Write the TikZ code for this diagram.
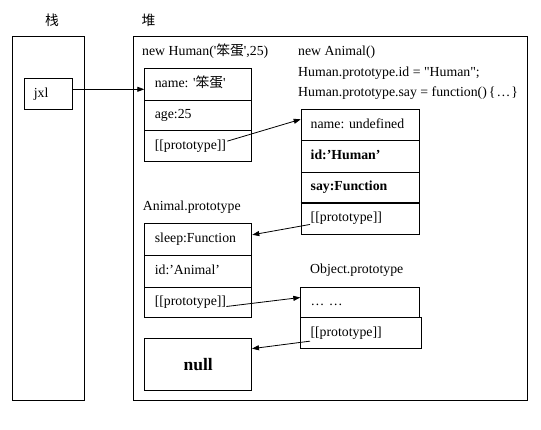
\documentclass[tikz,border=0pt]{standalone}
\usepackage{fontspec}
\newfontfamily\tnr{Liberation Serif}
\newfontfamily\cjk{Noto Sans CJK SC}
\usetikzlibrary{arrows.meta,calc}
\frenchspacing
\tikzset{
  every node/.style={font=\tnr\fontsize{13.8}{16}\selectfont},
  frame/.style={draw, line width=1pt, rectangle, anchor=north west, inner sep=0pt},
  cell/.style={draw, line width=1pt, rectangle, anchor=north west, inner xsep=10pt, inner ysep=0pt,
    align=left, text height=9pt, text depth=3pt},
  lbl/.style={inner sep=0pt, anchor=west, text height=9pt, text depth=3pt},
  arr/.style={-{Triangle[length=7pt,width=5pt]}, line width=0.8pt}
}
\begin{document}
\begin{tikzpicture}[x=1pt,y=-1pt]
\useasboundingbox (0,0) rectangle (541,429);
% titles
\node[inner sep=0pt] (tstack) at (52,20.5) {\cjk 栈};
\node[inner sep=0pt] (theap) at (148.5,20.5) {\cjk 堆};
% stack and heap frames
\node[frame, minimum width=72pt, minimum height=364.3pt] (stack) at (12.3,36) {};
\node[frame, minimum width=394.8pt, minimum height=364.3pt] (heap) at (132.5,36) {};
% jxl
\node[cell, inner xsep=9pt, text width=29.4pt, minimum width=47.4pt, minimum height=31pt] (jxl) at (24.3,78.3) {jxl};
% Human instance
\node[lbl] (lhuman) at (142,52.5) {new Human('{\cjk 笨蛋}',25)};
\node[cell, text width=86.7pt, minimum width=106.7pt, minimum height=32pt] (h1) at (144.3,67.7) {name: '{\cjk 笨蛋}'};
\node[cell, text width=86.7pt, minimum width=106.7pt, minimum height=30.6pt] (h2) at (144.3,99.7) {age:25};
\node[cell, text width=86.7pt, minimum width=106.7pt, minimum height=30.7pt] (h3) at (144.3,130.3) {[[prototype]]};
% Animal instance
\node[lbl] (lanimal) at (298,52.7) {new Animal()};
\node[lbl] (lid) at (298,73.3) {Human.prototype.id = "Human";};
\node[lbl] (lsay) at (298,93.3) {Human.prototype.say = function()\kern2pt\{\kern1pt…\kern1pt\}};
\node[cell, inner xsep=9.5pt, text width=99.3pt, minimum width=118.3pt, minimum height=31pt] (a1) at (300.7,109.3) {name: undefined};
\node[cell, inner xsep=9.5pt, text width=99.3pt, minimum width=118.3pt, minimum height=31.2pt] (a2) at (300.7,140.3) {\bfseries id:’Human’};
\node[cell, inner xsep=9.5pt, text width=99.3pt, minimum width=118.3pt, minimum height=31.2pt] (a3) at (300.7,171.5) {\bfseries say:Function};
\node[cell, inner xsep=9.5pt, text width=99.3pt, minimum width=118.3pt, minimum height=31.3pt] (a4) at (300.7,202.7) {[[prototype]]};
\draw[line width=2.2pt] (a4.north west) -- (a4.north east);
% Animal.prototype
\node[lbl] (lanproto) at (142.7,207) {Animal.prototype};
\node[cell, text width=87pt, minimum width=107pt, minimum height=32pt] (p1) at (144.3,223.3) {sleep:Function};
\node[cell, text width=87pt, minimum width=107pt, minimum height=31.4pt] (p2) at (144.3,255.3) {id:’Animal’};
\node[cell, text width=87pt, minimum width=107pt, minimum height=30.6pt] (p3) at (144.3,286.7) {[[prototype]]};
% Object.prototype
\node[lbl] (lobproto) at (310,270) {Object.prototype};
\node[cell, inner xsep=9.7pt, text width=99.6pt, minimum width=119pt, minimum height=30.6pt] (o1) at (300.3,286.7) {… …};
\node[cell, inner xsep=9.7pt, text width=101pt, minimum width=120.4pt, minimum height=30.7pt] (o2) at (300.3,317.3) {[[prototype]]};
% null
\node[frame, minimum width=106.7pt, minimum height=51.7pt, font=\tnr\bfseries\fontsize{17.5}{20}\selectfont] (nullbox) at (144.3,338.3) {null};
% connectors
\coordinate (s1) at ($(jxl.east)+(0,-5)$);
\draw[arr] (s1) -- (s1 -| h1.west);
\coordinate (s2) at ($(h3.west)+(83,-5)$);
\draw[arr] (s2) -- ($(a1.west)+(0,-6)$);
\coordinate (s3) at ($(a4.west)+(9.3,5.6)$);
\draw[arr] (s3) -- ($(p1.east)+(0,-5)$);
\coordinate (s4) at ($(p3.west)+(82,4)$);
\draw[arr] (s4) -- ($(o1.west)+(0,-5)$);
\coordinate (s5) at ($(o2.west)+(9.7,8)$);
\draw[arr] (s5) -- ($(nullbox.east)+(0,-16)$);
\end{tikzpicture}
\end{document}
